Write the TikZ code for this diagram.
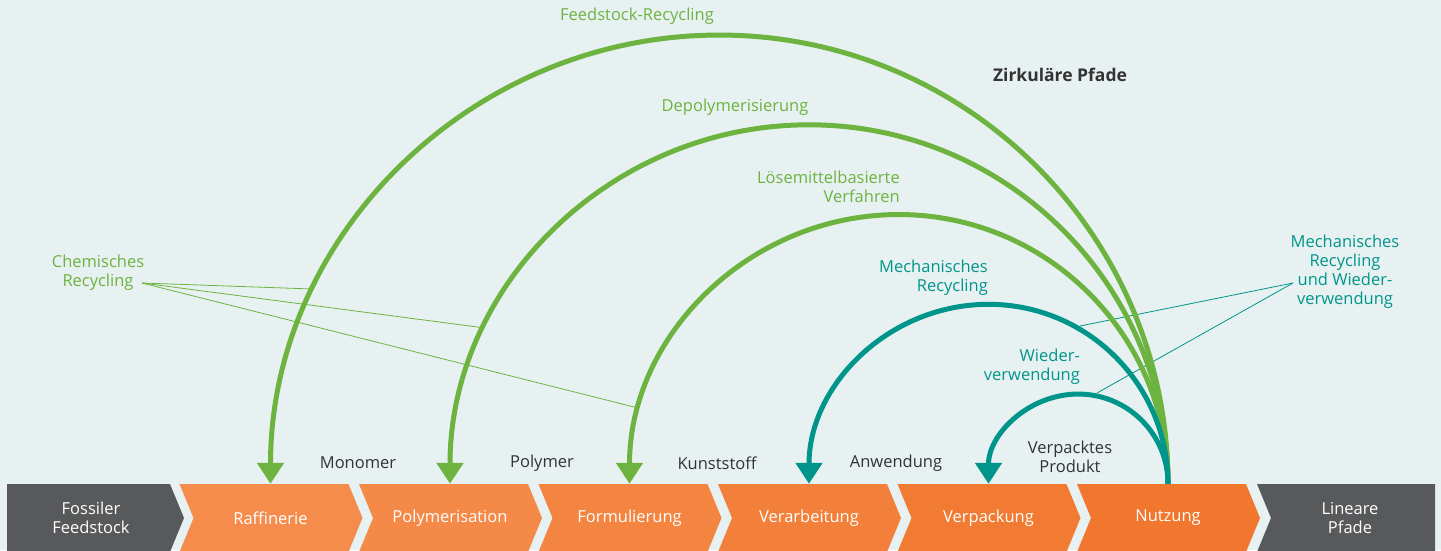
\documentclass[tikz,border=0pt]{standalone}
\usepackage{fontspec}
\setmainfont{Open Sans}
\usetikzlibrary{calc,arrows.meta}
\definecolor{bgblue}{HTML}{E8F1F2}
\definecolor{cgreen}{HTML}{6DB33F}
\definecolor{cteal}{HTML}{00958A}
\definecolor{cdark}{HTML}{58595B}
\definecolor{ctext}{HTML}{333333}
\definecolor{orA}{HTML}{F68C4C}
\definecolor{orB}{HTML}{F58948}
\definecolor{orC}{HTML}{F48541}
\definecolor{orD}{HTML}{F3803A}
\definecolor{orE}{HTML}{F27B33}
\definecolor{orF}{HTML}{F1772E}
\def\chevron[#1](#2)(#3){\fill[#1] (#2,66) -- ++(#3,0) -- ++(14,-34) -- ++(-14,-34) -- ++(-#3,0) -- ++(14,34) -- cycle;}

\begin{document}
\begin{tikzpicture}[x=1pt,y=1pt,
		every node/.style={inner sep=0, font=\fontsize{16.5}{19}\selectfont},
		stage/.style={text=white, minimum height=68, align=center},
		stagelabel/.style={text=ctext, align=center},
		greenlabel/.style={text=cgreen, align=center},
		teallabel/.style={text=cteal, align=center},
		greenarc/.style={cgreen, line width=5pt, -{Triangle[length=21pt,width=26pt]}},
		tealarc/.style={cteal, line width=5pt, -{Triangle[length=21pt,width=26pt]}},
		leader/.style={line width=0.8pt}]
		%%%%% START %%%%%
		
		\fill[bgblue] (0,0) rectangle (1441,550);
		\useasboundingbox (0,0) rectangle (1441,550);
		\clip (0,0) rectangle (1441,550);
		
		% stages
		\fill[cdark] (7,66) -- (170,66) -- (184,32) -- (170,-2) -- (7,-2) -- cycle;
		\chevron[orA](179.5)(169)
		\chevron[orB](359)(169)
		\chevron[orC](538.5)(169)
		\chevron[orD](718)(169)
		\chevron[orE](897.5)(169)
		\chevron[orF](1077)(169)
		\fill[cdark] (1257,66) -- (1435,66) -- (1435,-2) -- (1257,-2) -- (1271,32) -- cycle;
		
		\node[stage] (fos) at (91,32) {Fossiler\\Feedstock};
		\node[stage] (raf) at (270.5,32) {Raffinerie};
		\node[stage] (pol) at (450,32) {Polymerisation};
		\node[stage] (frm) at (629.5,32) {Formulierung};
		\node[stage] (vrb) at (809,32) {Verarbeitung};
		\node[stage] (vpk) at (988.5,32) {Verpackung};
		\node[stage] (nut) at (1168,32) {Nutzung};
		\node[stage] (lin) at (1350,32) {Lineare\\Pfade};
		
		% products between stages
		\node[stagelabel] (mono) at (358,87) {Monomer};
		\node[stagelabel] (poly) at (542,87) {Polymer};
		\node[stagelabel] (kunst) at (717,87) {Kunststoff};
		\node[stagelabel] (anw) at (896,87) {Anwendung};
		\node[stagelabel] (prod) at (1070,93.5) {Verpacktes\\Produkt};
		
		% leader lines
		\coordinate (chemtip) at (142,267);
		\coordinate (chemfs) at (312,261);
		\coordinate (chemdp) at (485,222);
		\coordinate (chemlm) at (638,142);
		\draw[leader, cgreen] (chemtip) -- (chemfs);
		\draw[leader, cgreen] (chemtip) -- (chemdp);
		\draw[leader, cgreen] (chemtip) -- (chemlm);
		\coordinate (mrwtip) at (1293,267);
		\coordinate (mrwme) at (1080,224);
		\coordinate (mrwwi) at (1097,157);
		\draw[leader, cteal] (mrwtip) -- (mrwme);
		\draw[leader, cteal] (mrwtip) -- (mrwwi);
		
		% circular paths
		\draw[greenarc] let \p1=(nut.north), \p2=(raf.north) in (\p1) arc[start angle=0, end angle=180, radius={(\x1-\x2)/2}];
		\draw[greenarc] let \p1=(nut.north), \p2=(pol.north) in (\p1) arc[start angle=0, end angle=180, radius={(\x1-\x2)/2}];
		\draw[greenarc] let \p1=(nut.north), \p2=(frm.north) in (\p1) arc[start angle=0, end angle=180, radius={(\x1-\x2)/2}];
		\draw[tealarc] let \p1=(nut.north), \p2=(vrb.north) in (\p1) arc[start angle=0, end angle=180, radius={(\x1-\x2)/2}];
		\draw[tealarc] let \p1=(nut.north), \p2=(vpk.north) in (\p1) arc[start angle=0, end angle=180, radius={(\x1-\x2)/2}];
		
		% labels
		\node[greenlabel] (fsr) at (637,534) {Feedstock-Recycling};
		\node[text=ctext, font=\fontsize{17.5}{21}\selectfont\bfseries] (zirk) at (1060,475) {Zirkuläre Pfade};
		\node[greenlabel] (dep) at (735,443) {Depolymerisierung};
		\node[greenlabel, anchor=east, align=right] (loes) at (900,363.5) {Lösemittelbasierte\\Verfahren};
		\node[teallabel, anchor=east, align=right] (mech) at (988,272.5) {Mechanisches\\Recycling};
		\node[teallabel, anchor=east, align=right] (wied) at (1080,183) {Wieder-\\verwendung};
		\node[greenlabel] (chem) at (98,277.5) {Chemisches\\Recycling};
		\node[teallabel] (mrw) at (1345,278.5) {Mechanisches\\Recycling\\und Wieder-\\verwendung};
		
		%%%%% END %%%%%
	\end{tikzpicture}
\end{document}
